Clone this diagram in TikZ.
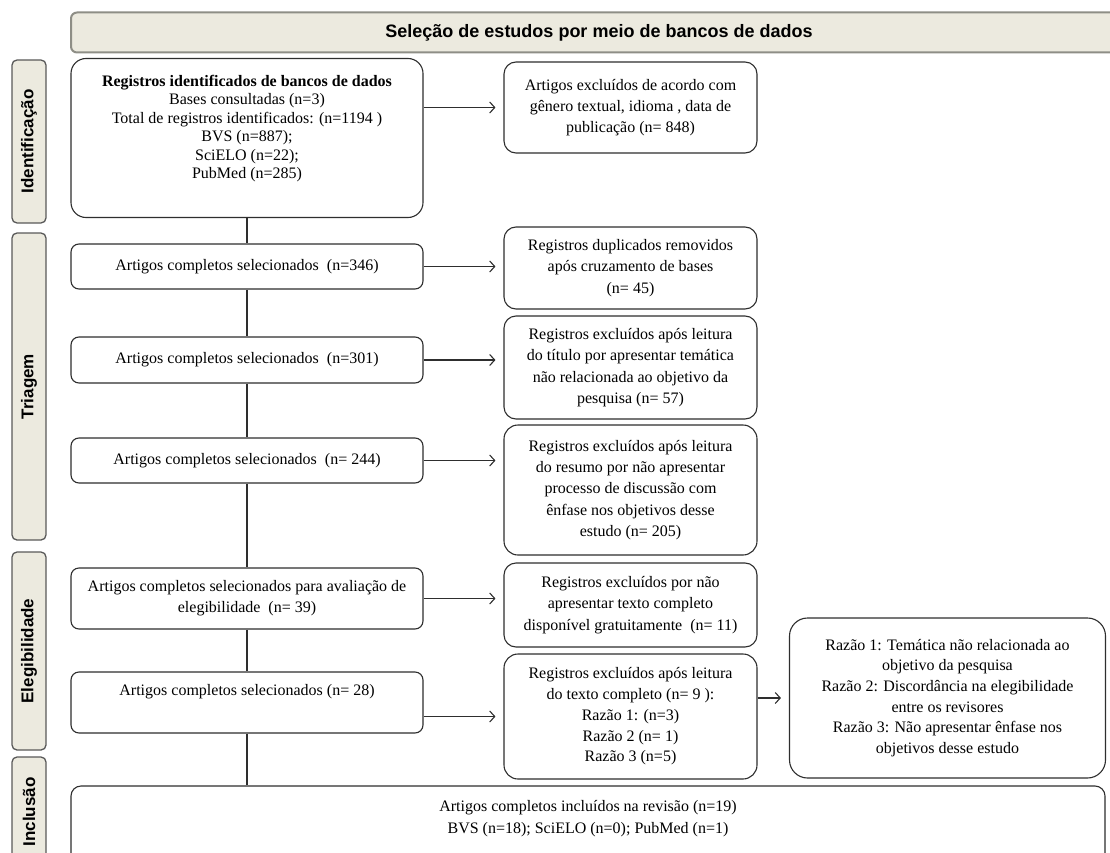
\documentclass[tikz,border=0pt]{standalone}
\usepackage{fontspec}
\setmainfont{Liberation Serif}
\setsansfont{Liberation Sans}
\usetikzlibrary{arrows.meta,positioning}

\definecolor{phasefill}{HTML}{ECEADF}
\definecolor{headline}{HTML}{8E8E86}
\definecolor{boxline}{HTML}{2E2E2E}

\begin{document}
\begin{tikzpicture}[x=1pt,y=-1pt,
  box/.style={draw=boxline, line width=1.1pt, rounded corners=8pt, fill=white,
    align=center, inner sep=0pt, font=\fontsize{16}{21.3}\selectfont},
  txt/.style={align=center, inner sep=0pt},
  phase/.style={draw=black!65, line width=1.3pt, fill=phasefill, rounded corners=5pt,
    rotate=90, inner sep=0pt, font=\sffamily\bfseries\fontsize{17}{20}\selectfont},
  flow/.style={draw=boxline, line width=1.1pt},
  excl/.style={flow, -{Straight Barb[length=5pt,width=11pt]}, shorten >=8pt}]
\useasboundingbox (0,0) rectangle (1110,853);

% header and phases
\node [draw=headline, line width=2pt, fill=phasefill, rounded corners=6pt,
  minimum width=1056pt, minimum height=40pt,
  font=\sffamily\bfseries\fontsize{18}{20}\selectfont] (head) at (599,32.5)
  {Seleção de estudos por meio de bancos de dados};
\node [phase, minimum width=163pt, minimum height=34pt] (idt) at (29,141.5) {Identificação};
\node [phase, minimum width=307pt, minimum height=34pt] (tri) at (29,386.5) {Triagem};
\node [phase, minimum width=198pt, minimum height=34pt] (ele) at (29,651) {Elegibilidade};
\node [phase, minimum width=110pt, minimum height=34pt] (inc) at (29,812) {Inclusão};

% main column
\node [box, rounded corners=15pt, minimum width=352pt, minimum height=159pt] (reg) at (247,138) {};
\node [txt, font=\fontsize{16}{18.4}\selectfont, below=17pt of reg.north] (regtxt)
  {\textbf{Registros identificados de bancos de dados}\\Bases consultadas (n=3)\\
   Total de registros identificados: (n=1194 )\\BVS (n=887);\\SciELO (n=22);\\PubMed (n=285)};
\node [box, minimum width=352pt, minimum height=45pt] (a346) at (247,266.5) {Artigos completos selecionados~~(n=346)};
\node [box, minimum width=352pt, minimum height=46pt] (a301) at (247,360) {Artigos completos selecionados~~(n=301)};
\node [box, minimum width=352pt, minimum height=45pt] (a244) at (247,460.5) {Artigos completos selecionados~~(n= 244)};
\node [box, minimum width=352pt, minimum height=61pt] (a39) at (247,598.5)
  {Artigos completos selecionados para avaliação de\\elegibilidade~~(n= 39)};
\node [box, minimum width=352pt, minimum height=61pt] (a28) at (247,702.5) {};
\node [txt, font=\fontsize{16}{21.3}\selectfont, below=13pt of a28.north] (a28txt)
  {Artigos completos selecionados (n= 28)};
\node [box, rounded corners=10pt, minimum width=1034pt, minimum height=94pt] (fin) at (588,833) {};
\node [txt, font=\fontsize{16}{22}\selectfont, below=14.5pt of fin.north] (fintxt)
  {Artigos completos incluídos na revisão (n=19)\\BVS (n=18); SciELO (n=0); PubMed (n=1)};

% excluded column
\node [box, rounded corners=12pt, minimum width=253pt, minimum height=91pt] (exc) at (630.5,107.5)
  {Artigos excluídos de acordo com\\gênero textual, idioma , data de\\publicação (n= 848)};
\node [box, rounded corners=12pt, minimum width=253pt, minimum height=82pt] (dup) at (630.5,268)
  {Registros duplicados removidos\\após cruzamento de bases\\(n= 45)};
\node [box, rounded corners=12pt, minimum width=253pt, minimum height=103pt] (tit) at (630.5,367.5)
  {Registros excluídos após leitura\\do título por apresentar temática\\não relacionada ao objetivo da\\pesquisa (n= 57)};
\node [box, rounded corners=14pt, minimum width=253pt, minimum height=130pt] (res) at (630.5,490)
  {Registros excluídos após leitura\\do resumo por não apresentar\\processo de discussão com\\ênfase nos objetivos desse\\estudo (n= 205)};
\node [box, rounded corners=12pt, minimum width=253pt, minimum height=84pt] (grt) at (630.5,605)
  {Registros excluídos por não\\apresentar texto completo\\disponível gratuitamente~~(n= 11)};
\node [box, rounded corners=14pt, minimum width=253pt, minimum height=125pt, font=\fontsize{16}{20.7}\selectfont] (txc) at (630.5,716.5)
  {Registros excluídos após leitura\\do texto completo (n= 9 ):\\Razão 1: (n=3)\\Razão 2 (n= 1)\\Razão 3 (n=5)};
\node [box, rounded corners=18pt, minimum width=316pt, minimum height=160pt, font=\fontsize{16}{20.6}\selectfont] (raz) at (947.5,698)
  {Razão 1: Temática não relacionada ao\\objetivo da pesquisa\\Razão 2: Discordância na elegibilidade\\entre os revisores\\Razão 3: Não apresentar ênfase nos\\objetivos desse estudo};

% connectors
\draw [flow] (reg) -- (a346);
\draw [flow] (a346) -- (a301);
\draw [flow] (a301) -- (a244);
\draw [flow] (a244) -- (a39);
\draw [flow] (a39) -- (a28);
\draw [flow] (a28.south) -- (a28.south |- fin.north);
\draw [excl] (reg.east |- exc.west) -- (exc.west);
\draw [excl] (a346.east) -- (a346.east -| dup.west);
\draw [excl] (a301.east) -- (a301.east -| tit.west);
\draw [excl] (a244.east) -- (a244.east -| res.west);
\draw [excl] (a39.east) -- (a39.east -| grt.west);
\draw [excl] (a28.east |- txc.west) -- (txc.west);
\draw [excl] (txc.east |- raz.west) -- (raz.west);
\end{tikzpicture}
\end{document}
